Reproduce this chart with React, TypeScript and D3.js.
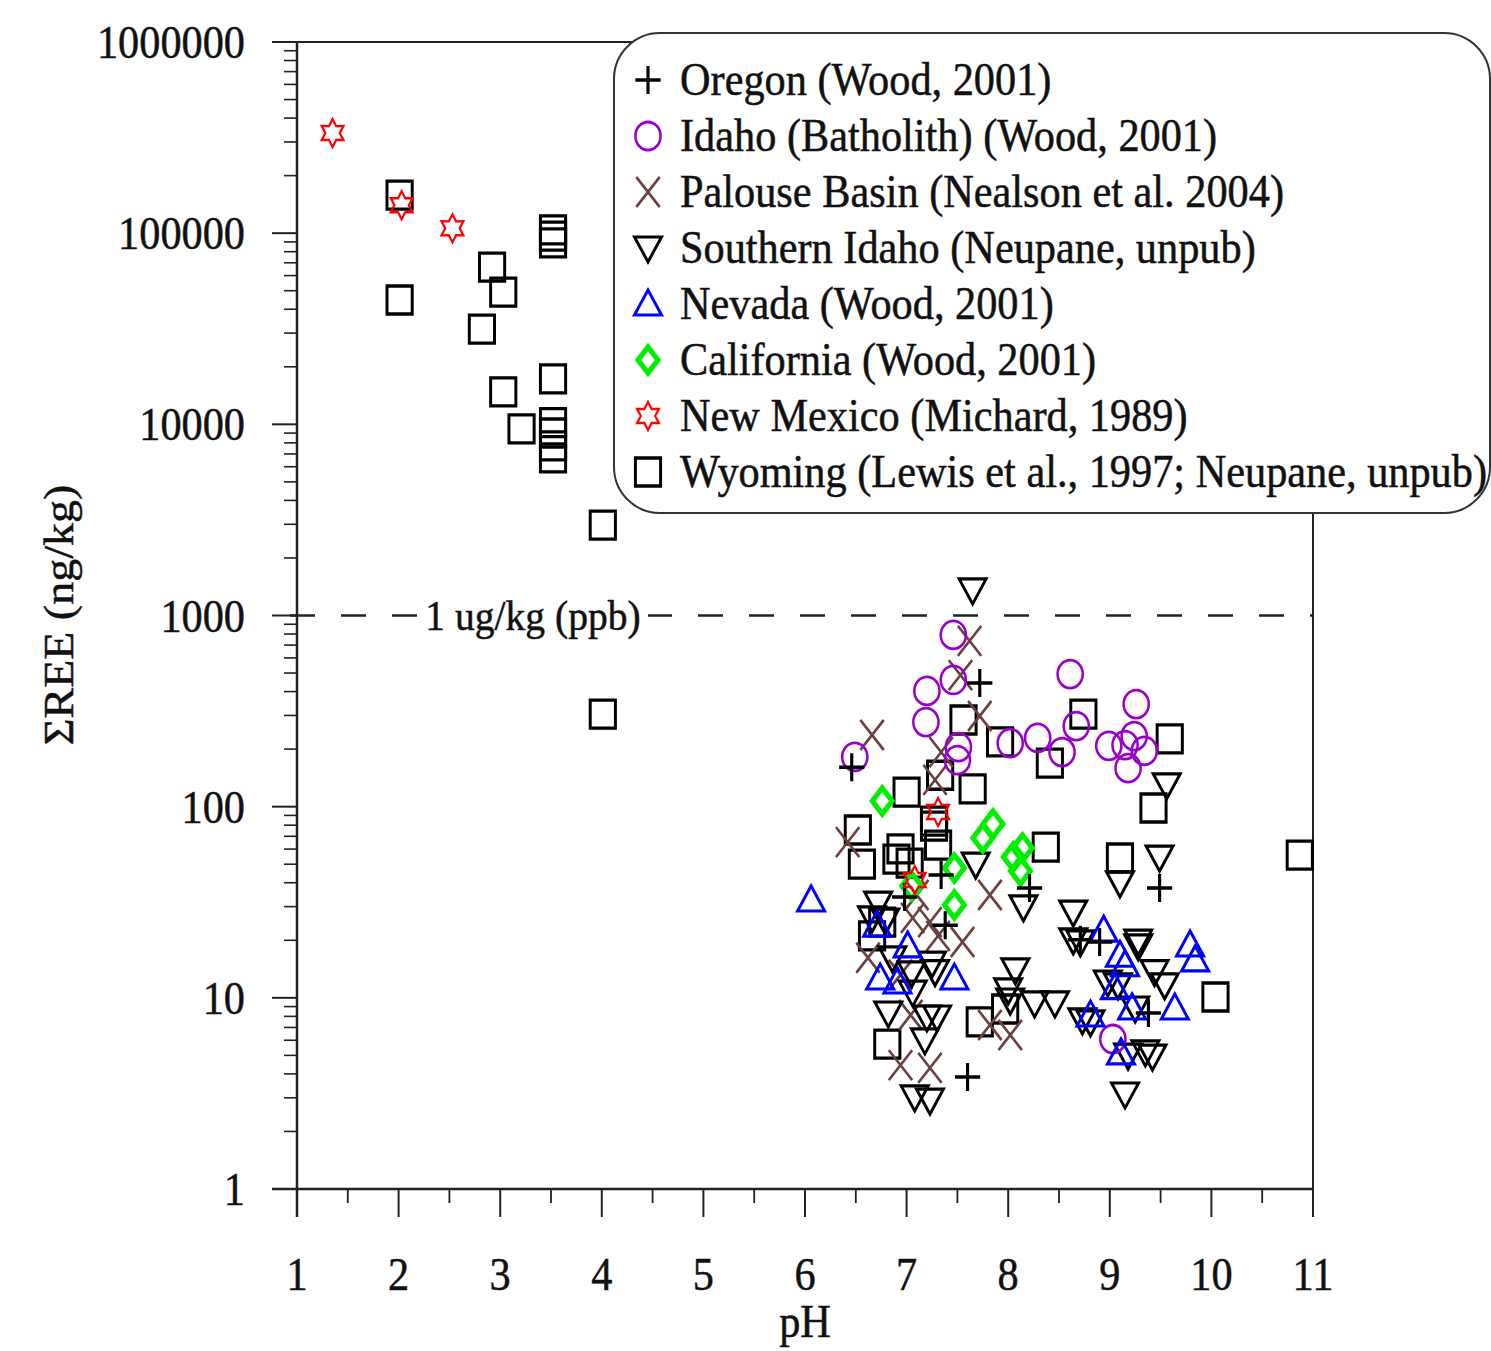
import React from "react";
import * as d3 from "d3";

// ---- data: [pH, ΣREE ng/kg] ----
const oregon: [number, number][] = [
  [6.46, 161], [7.72, 444], [7.34, 43.9], [6.98, 33.7], [7.38, 24], [8.21, 37.5],
  [9.49, 37.5], [7.6, 3.85], [8.71, 20.1], [8.9, 19.6], [9.38, 8.33],
];
const idahoBatholith: [number, number][] = [
  [7.46, 791], [7.2, 403], [7.46, 460], [7.19, 277], [7.51, 205], [7.5, 175],
  [6.49, 182], [8.61, 494], [8.02, 215], [8.29, 229], [8.53, 193], [8.67, 264],
  [9.26, 344], [8.99, 208], [9.15, 210], [9.24, 234], [9.18, 159], [9.34, 196],
  [9.03, 6.09],
];
const palouse: [number, number][] = [
  [7.62, 736], [7.53, 488], [7.72, 298], [6.66, 237], [7.34, 193], [7.28, 138],
  [6.42, 65.3], [7.06, 26.2], [7.23, 24.9], [7.31, 21.1], [7.55, 19.6], [6.62, 16.2],
  [6.94, 13.2], [7.04, 8.13], [7.82, 34.5], [7.82, 7.21], [8.02, 6.39], [6.94, 4.45],
  [7.23, 4.3], [7.1, 34.5],
];
const southernIdaho: [number, number][] = [
  [7.65, 1360], [9.56, 130], [9.49, 54.5], [9.1, 39.9], [7.68, 50.1], [8.15, 29.9],
  [6.72, 31.3], [6.66, 26.2], [6.79, 25.5], [7.25, 15.2], [7.28, 13.7], [7.05, 13.5],
  [6.86, 16.2], [7.06, 10.7], [6.82, 8.33], [7.2, 7.94], [7.3, 7.94], [7.18, 6.02],
  [7.08, 3.03], [7.23, 2.92], [8.07, 14.0], [8.0, 11.0], [8.02, 9.74], [8.26, 9.4],
  [8.46, 9.4], [8.64, 28.1], [8.64, 20.1], [8.71, 19.6], [8.73, 7.66], [8.81, 7.48],
  [9.28, 19.8], [9.28, 18.7], [8.98, 12.1], [9.08, 11.7], [9.44, 13.7], [9.54, 11.7],
  [9.25, 8.85], [9.18, 5.02], [9.35, 5.21], [9.42, 4.96], [9.15, 3.14],
];
const nevada: [number, number][] = [
  [6.06, 32.5], [6.74, 12.7], [6.91, 12.1], [7.01, 18.7], [7.47, 12.7], [6.71, 24.0],
  [8.94, 22.6], [9.1, 16.7], [9.15, 14.9], [9.79, 18.9], [9.84, 15.8], [9.64, 8.85],
  [9.05, 11.3], [9.22, 8.85], [8.81, 8.13], [9.11, 5.15],
];
const california: [number, number][] = [
  [6.76, 107], [7.85, 81.1], [7.75, 68.5], [8.14, 60.8], [8.05, 54.5], [8.12, 46.1],
  [7.47, 47.8], [7.47, 30.6], [7.05, 38.5],
];
const newMexico: [number, number][] = [
  [1.35, 334000], [2.03, 140000], [2.53, 106000], [7.31, 93.8], [7.08, 41.3],
];
const wyoming: [number, number][] = [
  [2.01, 158000], [2.01, 44700], [2.92, 66500], [3.03, 49200], [2.82, 31500],
  [3.03, 14800], [3.21, 9460], [3.52, 104000], [3.52, 96600], [3.52, 88900],
  [3.52, 17300], [3.52, 10200], [3.52, 9010], [3.52, 7710], [3.52, 6670],
  [4.01, 2970], [4.01, 305], [10.87, 55.8], [10.04, 10.1], [6.52, 75.5], [6.56, 50.1],
  [7.0, 119], [7.33, 146], [7.56, 284], [7.65, 124], [7.27, 84.1], [7.27, 79.2],
  [7.31, 63.0], [6.94, 60.1], [6.9, 53.2], [7.03, 50.7], [6.66, 21.1], [6.76, 24.9],
  [7.72, 7.48], [7.97, 8.74], [6.81, 5.73], [8.74, 305], [8.41, 169], [7.92, 218],
  [9.43, 98.4], [9.59, 226], [9.1, 53.9], [8.37, 61.5],
];

const xTicks = [1, 2, 3, 4, 5, 6, 7, 8, 9, 10, 11];
const yTicks = [1, 10, 100, 1000, 10000, 100000, 1000000];
const legendLabels = [
  "Oregon (Wood, 2001)",
  "Idaho (Batholith) (Wood, 2001)",
  "Palouse Basin (Nealson et al. 2004)",
  "Southern Idaho (Neupane, unpub)",
  "Nevada (Wood, 2001)",
  "California (Wood, 2001)",
  "New Mexico (Michard, 1989)",
  "Wyoming (Lewis et al., 1997; Neupane, unpub)",
];

type Kind = "plus" | "circle" | "x" | "down" | "up" | "diamond" | "star" | "square";

const hexagram = (() => {
  const pts: string[] = [];
  for (let i = 0; i < 12; i++) {
    const a = (-90 + i * 30) * (Math.PI / 180);
    const r = i % 2 === 0 ? 14 : 8;
    pts.push(`${(r * Math.cos(a)).toFixed(2)},${(r * Math.sin(a)).toFixed(2)}`);
  }
  return "M" + pts.join("L") + "Z";
})();

const markerDef: Record<Kind, { d?: string; color: string; sw: number }> = {
  plus: { d: "M-14,0H14M0,-14V14", color: "#000", sw: 3.5 },
  circle: { color: "#9900cc", sw: 2.8 },
  x: { d: "M-13,-15L13,15M-13,15L13,-15", color: "#6b4040", sw: 2.8 },
  down: { d: "M-15,-11L15,-11L0,14Z", color: "#000", sw: 3.2 },
  up: { d: "M-15,11L15,11L0,-14Z", color: "#0000ff", sw: 3.2 },
  diamond: { d: "M0,-13L11,0L0,13L-11,0Z", color: "#00ee00", sw: 5.5 },
  star: { d: hexagram, color: "#ff0000", sw: 2.4 },
  square: { d: "M-14,-14H14V14H-14Z", color: "#000", sw: 3.3 },
};

const Marker = ({ kind, x, y }: { kind: Kind; x: number; y: number }) => {
  const m = markerDef[kind];
  return (
    <g transform={`translate(${x},${y}) scale(0.9,1)`}>
      {kind === "circle" ? (
        <circle r={14} fill="none" stroke={m.color} strokeWidth={m.sw} />
      ) : (
        <path d={m.d} fill="none" stroke={m.color} strokeWidth={m.sw} strokeLinejoin="miter" />
      )}
    </g>
  );
};

const FONT = "'Liberation Serif', 'Times New Roman', Times, serif";

const T = ({
  x, y, anchor = "start", size = 46, rotate = false, children,
}: { x: number; y: number; anchor?: string; size?: number; rotate?: boolean; children: React.ReactNode }) => (
  <text
    transform={`translate(${x},${y}) scale(0.92,1)${rotate ? " rotate(-90)" : ""}`}
    textAnchor={anchor as any}
    fontFamily={FONT}
    fontSize={size}
    fill="#111"
    stroke="#111"
    strokeWidth={0.5}
  >
    {children}
  </text>
);

export default function App() {
  const W = 1491, H = 1351;
  const x = d3.scaleLinear().domain([1, 11]).range([297, 1313]);
  const y = d3.scaleLog().domain([1, 1e6]).range([1189, 42]);

  const minorY: number[] = [];
  for (let e = 0; e < 6; e++) for (let k = 2; k <= 9; k++) minorY.push(k * Math.pow(10, e));
  const minorX = d3.range(1.5, 11, 1);

  const series: { data: [number, number][]; kind: Kind }[] = [
    { data: wyoming, kind: "square" },
    { data: palouse, kind: "x" },
    { data: southernIdaho, kind: "down" },
    { data: idahoBatholith, kind: "circle" },
    { data: nevada, kind: "up" },
    { data: california, kind: "diamond" },
    { data: oregon, kind: "plus" },
    { data: newMexico, kind: "star" },
  ];
  const legendKinds: Kind[] = ["plus", "circle", "x", "down", "up", "diamond", "star", "square"];

  const axisColor = "#222";
  const y1000 = y(1000);

  return (
    <svg width={W} height={H} style={{ position: "absolute", left: 0, top: 0, background: "#fff" }}>
      <rect width={W} height={H} fill="#fff" />
      {/* frame */}
      <line x1={272} x2={1313} y1={y(1e6)} y2={y(1e6)} stroke={axisColor} strokeWidth={2} />
      <line x1={x(11)} x2={x(11)} y1={y(1e6)} y2={y(1) + 28} stroke={axisColor} strokeWidth={2} />
      <line x1={x(1)} x2={x(1)} y1={y(1e6)} y2={y(1) + 28} stroke={axisColor} strokeWidth={2.5} />
      <line x1={272} x2={1313} y1={y(1)} y2={y(1)} stroke={axisColor} strokeWidth={2.5} />
      {/* y ticks */}
      {yTicks.map((t) => (
        <g key={"yt" + t}>
          <line x1={272} x2={x(1)} y1={y(t)} y2={y(t)} stroke={axisColor} strokeWidth={2} />
          <T x={245} y={y(t) + 16} anchor="end">{String(t)}</T>
        </g>
      ))}
      {minorY.map((t) => (
        <line key={"ym" + t} x1={284} x2={x(1)} y1={y(t)} y2={y(t)} stroke={axisColor} strokeWidth={1.6} />
      ))}
      {/* x ticks */}
      {xTicks.map((t) => (
        <g key={"xt" + t}>
          <line x1={x(t)} x2={x(t)} y1={y(1)} y2={y(1) + 28} stroke={axisColor} strokeWidth={2} />
          <T x={x(t)} y={1290} anchor="middle">{String(t)}</T>
        </g>
      ))}
      {minorX.map((t) => (
        <line key={"xm" + t} x1={x(t)} x2={x(t)} y1={y(1)} y2={y(1) + 14} stroke={axisColor} strokeWidth={1.8} />
      ))}
      {/* axis titles */}
      <T x={805} y={1337} anchor="middle">pH</T>
      <T x={73} y={615} anchor="middle" rotate>ΣREE (ng/kg)</T>

      {/* 1 ug/kg line */}
      <line x1={290} x2={1313} y1={y1000} y2={y1000} stroke="#222" strokeWidth={2.5} strokeDasharray="25 26" />
      <rect x={420} y={y1000 - 26} width={228} height={50} fill="#fff" />
      <T x={533} y={y1000 + 14} anchor="middle" size={43}>1 ug/kg (ppb)</T>

      {/* points */}
      {series.map((s, i) => (
        <g key={"s" + i}>
          {s.data.map((d, j) => (
            <Marker key={j} kind={s.kind} x={x(d[0])} y={y(d[1])} />
          ))}
        </g>
      ))}

      {/* legend */}
      <rect x={614} y={33} width={876} height={480} rx={46} ry={46} fill="#fff" stroke="#333" strokeWidth={2} />
      {legendLabels.map((lab, i) => (
        <g key={"lg" + i}>
          <Marker kind={legendKinds[i]} x={648} y={80 + i * 56} />
          <T x={680} y={95 + i * 56}>{lab}</T>
        </g>
      ))}
    </svg>
  );
}
